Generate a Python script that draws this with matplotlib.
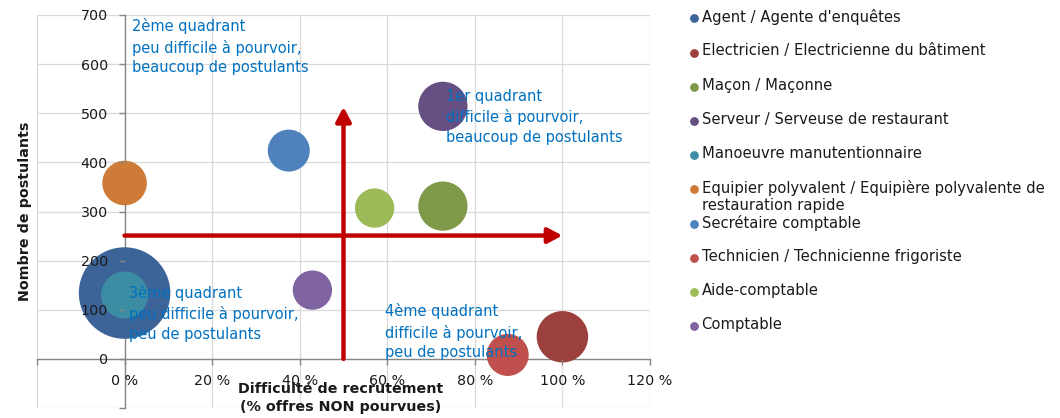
import matplotlib
matplotlib.use("Agg")
import matplotlib.pyplot as plt
from matplotlib.lines import Line2D

plt.rcParams['font.family'] = ['DejaVu Sans']

metiers = [
    "Agent / Agente d'enquêtes",
    "Electricien / Electricienne du bâtiment",
    "Maçon / Maçonne",
    "Serveur / Serveuse de restaurant",
    "Manoeuvre manutentionnaire",
    "Equipier polyvalent / Equipière polyvalente de\nrestauration rapide",
    "Secrétaire comptable",
    "Technicien / Technicienne frigoriste",
    "Aide-comptable",
    "Comptable",
]
difficulte = [0, 100, 72.7, 72.7, 0, 0, 37.5, 87.5, 57.1, 42.9]   # % offres non pourvues
postulants = [134, 45, 311, 514, 130, 358, 424, 8, 307, 140]
offres = [38, 12, 11, 11, 10, 9, 8, 8, 7, 7]                      # bubble size
couleurs = ["#3D6498", "#9C403E", "#7E9A48", "#664F82", "#3C8DA4",
            "#CE7B37", "#4F81BD", "#C0504D", "#9BBB59", "#8064A2"]

x_ticks = [-20, 0, 20, 40, 60, 80, 100, 120]
x_labels = ["", "0 %", "20 %", "40 %", "60 %", "80 %", "100 %", "120 %"]
y_ticks = [-100, 0, 100, 200, 300, 400, 500, 600, 700]
y_labels = ["", "0", "100", "200", "300", "400", "500", "600", "700"]

W, H = 1060, 418
fig = plt.figure(figsize=(W / 100, H / 100), dpi=100)
ax = fig.add_axes([37 / W, 1 - 408 / H, (650 - 37) / W, (408 - 15) / H])
ax.set_xlim(-20, 120)
ax.set_ylim(-100, 700)

# gridlines (drawn manually so that tick labels can sit above bubbles)
for xv in x_ticks:
    ax.axvline(xv, color="#D9D9D9", linewidth=0.9, zorder=0)
for yv in y_ticks:
    ax.axhline(yv, color="#D9D9D9", linewidth=0.9, zorder=0)

for s in ["top", "right"]:
    ax.spines[s].set_visible(False)
ax.spines["left"].set_position(("data", 0))
ax.spines["bottom"].set_position(("data", 0))
for s in ["left", "bottom"]:
    ax.spines[s].set_color("#868686")
    ax.spines[s].set_linewidth(1.0)
    ax.spines[s].set_zorder(1)

ax.set_xticks(x_ticks)
ax.set_xticklabels(x_labels)
ax.set_yticks(y_ticks)
ax.set_yticklabels(y_labels)
ax.tick_params(axis="x", length=4, width=1, color="#868686", pad=7, labelsize=10.3, labelcolor="#1a1a1a")
ax.tick_params(axis="y", length=4, width=1, color="#868686", pad=8, labelsize=10.3, labelcolor="#1a1a1a")
ax.xaxis.set_zorder(8)
ax.yaxis.set_zorder(8)

k = 114.3
for i in range(len(metiers)):
    ax.scatter([difficulte[i]], [postulants[i]], s=offres[i] * k, color=couleurs[i],
               edgecolors="none", zorder=3 + i * 0.01)

# quadrant arrows
arrow_kw = dict(arrowstyle="-|>,head_length=0.85,head_width=0.45", color="#C00000", lw=3.2,
                shrinkA=0, shrinkB=0)
ax.annotate("", xy=(100, 251), xytext=(0, 251), arrowprops=arrow_kw, zorder=5)
ax.annotate("", xy=(50, 513), xytext=(50, 0), arrowprops=arrow_kw, zorder=5)

txt_kw = dict(color="#0070C0", fontsize=10.5, va="top", ha="left", linespacing=1.4, zorder=6)
ax.text(1.6, 693, "2ème quadrant\npeu difficile à pourvoir,\nbeaucoup de postulants", **txt_kw)
ax.text(73.4, 550, "1er quadrant\ndifficile à pourvoir,\nbeaucoup de postulants", **txt_kw)
ax.text(1.0, 150, "3ème quadrant\npeu difficile à pourvoir,\npeu de postulants", **txt_kw)
ax.text(59.4, 113, "4ème quadrant\ndifficile à pourvoir,\npeu de postulants", **txt_kw)

ax.set_ylabel("Nombre de postulants", fontsize=10.3, fontweight="bold", color="#1a1a1a")
ax.yaxis.set_label_coords(-5 / (650 - 37), 0.5)
fig.text(341 / W, 1 - 398 / H, "Difficulté de recrutement\n(% offres NON pourvues)",
         ha="center", va="center", fontsize=10.3, fontweight="bold", color="#1a1a1a",
         linespacing=1.4)

# legend
leg_y = [18, 52.5, 86.7, 121, 155, 189, 223.7, 257.5, 291.7, 325.7]
for i, lab in enumerate(metiers):
    yf = 1 - leg_y[i] / H
    fig.add_artist(Line2D([693.5 / W], [yf], marker="o", markersize=5.3, color=couleurs[i],
                          linestyle="none", transform=fig.transFigure))
    fig.text(701.5 / W, 1 - (leg_y[i] - 9) / H, lab, ha="left", va="top", fontsize=10.6,
             color="#1a1a1a", linespacing=1.2)

fig.savefig("out.png", dpi=100)
